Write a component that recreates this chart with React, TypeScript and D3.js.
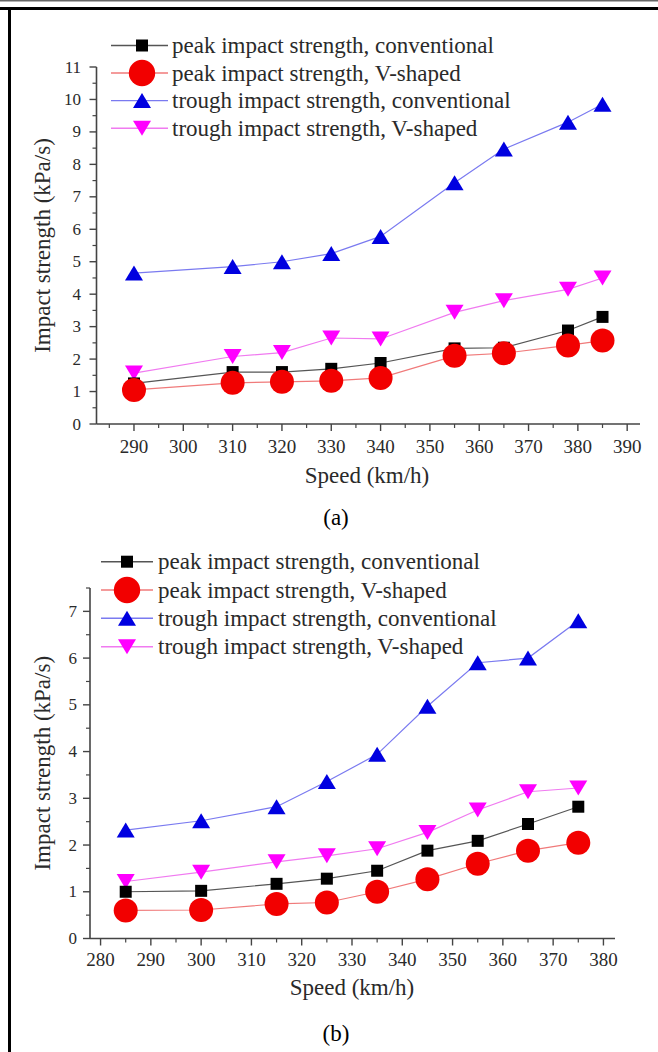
import React from 'react';
import * as d3 from 'd3';

const seriesNames = [
  'peak impact strength, conventional',
  'peak impact strength, V-shaped',
  'trough impact strength, conventional',
  'trough impact strength, V-shaped',
];

// Panel (a)
const speedsA = [290, 310, 320, 330, 340, 355, 365, 378, 385];
const peakConvA = [1.25, 1.6, 1.6, 1.7, 1.88, 2.33, 2.35, 2.88, 3.3];
const peakVA = [1.05, 1.27, 1.3, 1.33, 1.42, 2.1, 2.18, 2.42, 2.57];
const troughConvA = [4.65, 4.85, 5.0, 5.25, 5.78, 7.43, 8.47, 9.3, 9.85];
const troughVA = [1.57, 2.08, 2.2, 2.65, 2.62, 3.44, 3.8, 4.15, 4.5];
const xTicksA = [290, 300, 310, 320, 330, 340, 350, 360, 370, 380, 390];
const yTicksA = [0, 1, 2, 3, 4, 5, 6, 7, 8, 9, 10, 11];

// Panel (b)
const speedsB = [285, 300, 315, 325, 335, 345, 355, 365, 375];
const peakConvB = [1.0, 1.02, 1.17, 1.28, 1.45, 1.88, 2.09, 2.45, 2.82];
const peakVB = [0.6, 0.61, 0.74, 0.77, 1.0, 1.27, 1.6, 1.88, 2.05];
const troughConvB = [2.32, 2.52, 2.82, 3.36, 3.94, 4.97, 5.9, 6.0, 6.8];
const troughVB = [1.22, 1.42, 1.64, 1.77, 1.92, 2.27, 2.75, 3.14, 3.22];
const xTicksB = [280, 290, 300, 310, 320, 330, 340, 350, 360, 370, 380];
const yTicksB = [0, 1, 2, 3, 4, 5, 6, 7];

const xTitle = 'Speed (km/h)';
const yTitle = 'Impact strength (kPa/s)';

const FONT = '"Liberation Serif", "Times New Roman", serif';
const TEXT = '#2a2a2a';
const AXIS = '#444';

const styles = [
  { kind: 'square', fill: '#000', line: '#555' },
  { kind: 'circle', fill: '#f20000', line: '#f07a7a' },
  { kind: 'up', fill: '#0000e0', line: '#7a7af0' },
  { kind: 'down', fill: '#ff00ff', line: '#f07af0' },
];

function markerPath(kind: string, scale = 1): string {
  if (kind === 'square') return d3.symbol(d3.symbolSquare, 144 * scale * scale)() as string;
  if (kind === 'circle') return d3.symbol(d3.symbolCircle, Math.PI * 144 * scale * scale)() as string;
  const w = 18 * scale;
  const h = 15 * scale;
  if (kind === 'up') return `M0,${-h / 2}L${w / 2},${h / 2}L${-w / 2},${h / 2}Z`;
  return `M0,${h / 2}L${w / 2},${-h / 2}L${-w / 2},${-h / 2}Z`;
}

type Cfg = {
  left: number; right: number; top: number; bottom: number;
  xDomain: [number, number]; yDomain: [number, number];
  xTicks: number[]; yTicks: number[];
  legendX: number; legendY: number[]; legendLine: [number, number]; legendText: number;
  yLabelRight: number; xLabelY: number; xTitleX: number; xTitleY: number;
  captionX: number; captionY: number; caption: string;
};

function Panel({ cfg, speeds, series }: { cfg: Cfg; speeds: number[]; series: number[][] }) {
  const x = d3.scaleLinear().domain(cfg.xDomain).range([cfg.left, cfg.right]);
  const y = d3.scaleLinear().domain(cfg.yDomain).range([cfg.bottom, cfg.top]);
  const line = d3.line<number>().x((_, i) => x(speeds[i])).y((d) => y(d));
  const xMinor = d3.range(cfg.xTicks[0] - 5, cfg.xDomain[1] + 0.01, 5).filter((v) => v >= cfg.xDomain[0] && !cfg.xTicks.includes(v));
  const yMinor = d3.range(0.5, cfg.yDomain[1] + 0.01, 1);
  const order = [3, 2, 0, 1];
  const yMid = (cfg.top + cfg.bottom) / 2;
  return (
    <g>
      {/* axes */}
      <line x1={cfg.left} x2={cfg.right} y1={cfg.bottom} y2={cfg.bottom} stroke={AXIS} strokeWidth={1.6} />
      <line x1={cfg.left} x2={cfg.left} y1={cfg.bottom} y2={y(cfg.yDomain[1])} stroke={AXIS} strokeWidth={1.6} />
      {cfg.xTicks.map((t) => (
        <g key={'xt' + t}>
          <line x1={x(t)} x2={x(t)} y1={cfg.bottom} y2={cfg.bottom + 7} stroke={AXIS} strokeWidth={1.4} />
          <text x={x(t)} y={cfg.xLabelY} textAnchor="middle" dominantBaseline="central" fontSize={19} fill={TEXT} fontFamily={FONT}>{t}</text>
        </g>
      ))}
      {xMinor.map((t) => (
        <line key={'xm' + t} x1={x(t)} x2={x(t)} y1={cfg.bottom} y2={cfg.bottom + 4} stroke={AXIS} strokeWidth={1.2} />
      ))}
      {cfg.yTicks.map((t) => (
        <g key={'yt' + t}>
          <line x1={cfg.left - 7} x2={cfg.left} y1={y(t)} y2={y(t)} stroke={AXIS} strokeWidth={1.4} />
          <text x={cfg.yLabelRight} y={y(t)} textAnchor="end" dominantBaseline="central" fontSize={17} fill={TEXT} fontFamily={FONT}>{t}</text>
        </g>
      ))}
      {yMinor.map((t) => (
        <line key={'ym' + t} x1={cfg.left - 4} x2={cfg.left} y1={y(t)} y2={y(t)} stroke={AXIS} strokeWidth={1.2} />
      ))}
      {/* titles */}
      <text x={cfg.xTitleX} y={cfg.xTitleY} textAnchor="middle" dominantBaseline="central" fontSize={23} fill={TEXT} fontFamily={FONT}>{xTitle}</text>
      <text transform={`translate(42,${yMid}) rotate(-90)`} textAnchor="middle" dominantBaseline="central" fontSize={23} fill={TEXT} fontFamily={FONT}>{yTitle}</text>
      <text x={cfg.captionX} y={cfg.captionY} textAnchor="middle" dominantBaseline="central" fontSize={23} fill="#000" fontFamily={FONT}>{cfg.caption}</text>
      {/* series */}
      {order.map((si) => (
        <g key={'s' + si}>
          <path d={line(series[si]) as string} fill="none" stroke={styles[si].line} strokeWidth={1.2} />
          {series[si].map((v, i) => (
            <path key={i} d={markerPath(styles[si].kind)} transform={`translate(${x(speeds[i])},${y(v)})`} fill={styles[si].fill} />
          ))}
        </g>
      ))}
      {/* legend */}
      {seriesNames.map((name, i) => (
        <g key={'lg' + i}>
          <line x1={cfg.legendLine[0]} x2={cfg.legendLine[1]} y1={cfg.legendY[i]} y2={cfg.legendY[i]} stroke={styles[i].line} strokeWidth={1.4} />
          <path d={markerPath(styles[i].kind, i === 1 ? 1.1 : 1)} transform={`translate(${cfg.legendX},${cfg.legendY[i]})`} fill={styles[i].fill} />
          <text x={cfg.legendText} y={cfg.legendY[i]} dominantBaseline="central" fontSize={23} fill={TEXT} fontFamily={FONT}>{name}</text>
        </g>
      ))}
    </g>
  );
}

const cfgA: Cfg = {
  left: 96.5, right: 640, top: 67, bottom: 424,
  xDomain: [282.4, 392.6], yDomain: [0, 11],
  xTicks: xTicksA, yTicks: yTicksA,
  legendX: 142, legendY: [45.5, 73, 100.6, 128.2], legendLine: [111, 168], legendText: 172,
  yLabelRight: 81, xLabelY: 446, xTitleX: 367, xTitleY: 475,
  captionX: 336, captionY: 517, caption: '(a)',
};

const cfgB: Cfg = {
  left: 90, right: 615, top: 588, bottom: 938.5,
  xDomain: [277.9, 382.3], yDomain: [0, 7.5],
  xTicks: xTicksB, yTicks: yTicksB,
  legendX: 127, legendY: [561.7, 590, 618.3, 646.7], legendLine: [101, 153], legendText: 158,
  yLabelRight: 77, xLabelY: 959, xTitleX: 352, xTitleY: 987,
  captionX: 336, captionY: 1033, caption: '(b)',
};

export default function App() {
  return (
    <svg width={658} height={1052} style={{ position: 'absolute', left: 0, top: 0, background: '#fff' }}>
      <rect x={0} y={0} width={658} height={1052} fill="#fff" />
      <rect x={0} y={0} width={658} height={1.5} fill="#666" />
      <rect x={0} y={7} width={658} height={3} fill="#000" />
      <rect x={8} y={7} width={3} height={1045} fill="#000" />
      <Panel cfg={cfgA} speeds={speedsA} series={[peakConvA, peakVA, troughConvA, troughVA]} />
      <Panel cfg={cfgB} speeds={speedsB} series={[peakConvB, peakVB, troughConvB, troughVB]} />
    </svg>
  );
}
